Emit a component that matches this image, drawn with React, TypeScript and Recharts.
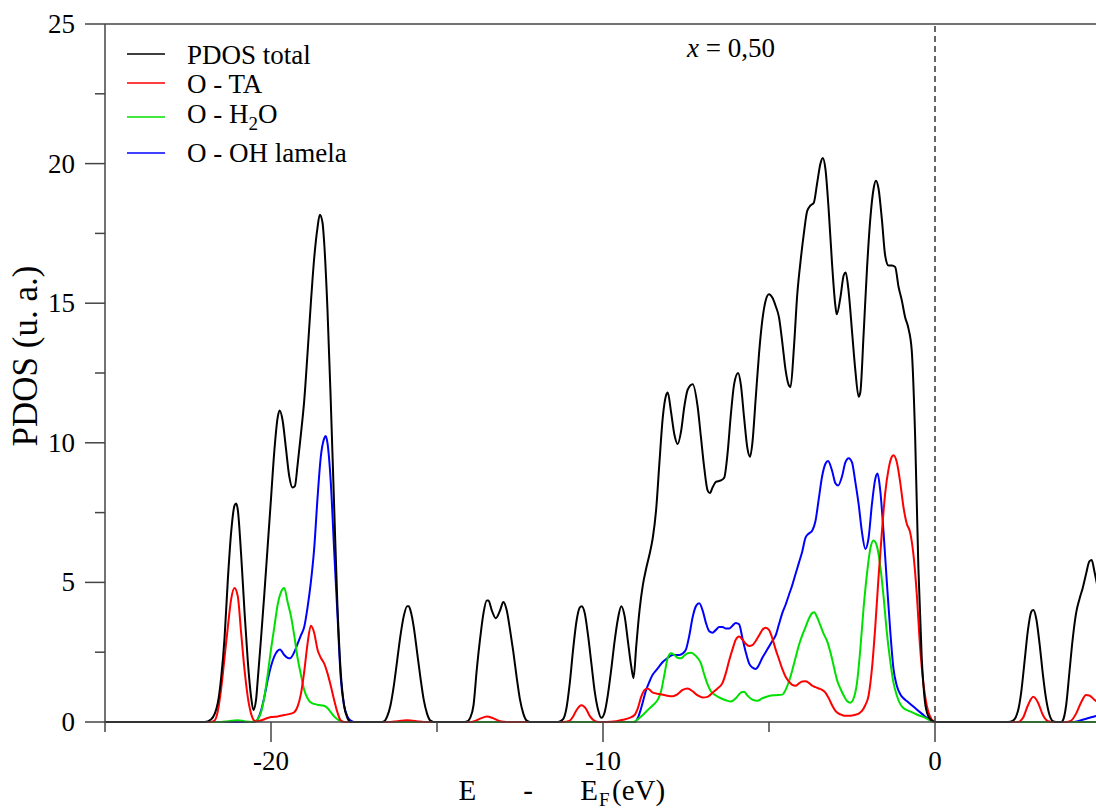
import React from "react";
import { LineChart, Line, XAxis, YAxis, ReferenceLine } from "recharts";

// [energy (eV), PDOS]
const TOTAL: [number, number][] = [
  [-25, 0], [-22, 0], [-21.8, 0.1], [-21.6, 0.7], [-21.5, 1.6], [-21.4, 3.0], [-21.3, 5.1], [-21.2, 6.8], [-21.1, 7.75], [-21.05, 7.83], [-21.0, 7.6], [-20.9, 6.0], [-20.8, 4.0], [-20.7, 2.2], [-20.6, 0.9], [-20.53, 0.43], [-20.45, 0.8], [-20.4, 1.5], [-20.3, 3.0], [-20.2, 4.6], [-20.1, 6.3], [-20.0, 8.0], [-19.9, 9.7], [-19.8, 10.9], [-19.74, 11.16], [-19.65, 10.8], [-19.55, 9.8], [-19.45, 8.8], [-19.35, 8.4], [-19.28, 8.45], [-19.2, 9.2], [-19.1, 10.3], [-19.0, 11.5], [-18.9, 13.2], [-18.8, 15.0], [-18.7, 16.6], [-18.6, 17.7], [-18.53, 18.17], [-18.45, 17.9], [-18.4, 17.2], [-18.3, 14.8], [-18.2, 11.5], [-18.1, 7.8], [-18.0, 4.2], [-17.9, 1.8], [-17.8, 0.6], [-17.7, 0.15], [-17.6, 0],
  [-16.7, 0], [-16.6, 0.02], [-16.5, 0.2], [-16.4, 0.6], [-16.3, 1.3], [-16.2, 2.2], [-16.1, 3.1], [-16.0, 3.8], [-15.9, 4.15], [-15.85, 4.15], [-15.8, 4.0], [-15.7, 3.4], [-15.6, 2.5], [-15.5, 1.6], [-15.4, 0.8], [-15.3, 0.3], [-15.2, 0.05], [-15.1, 0],
  [-14.2, 0], [-14.1, 0.02], [-14.0, 0.15], [-13.9, 0.6], [-13.8, 1.9], [-13.7, 3.0], [-13.6, 3.9], [-13.5, 4.35], [-13.45, 4.35], [-13.35, 4.0], [-13.23, 3.72], [-13.1, 4.0], [-13.0, 4.3], [-12.9, 4.0], [-12.8, 3.3], [-12.7, 2.5], [-12.6, 1.6], [-12.5, 0.8], [-12.4, 0.3], [-12.3, 0.05], [-12.2, 0],
  [-11.4, 0], [-11.3, 0.02], [-11.2, 0.1], [-11.1, 0.5], [-11.0, 1.4], [-10.9, 2.6], [-10.8, 3.6], [-10.7, 4.1], [-10.64, 4.15], [-10.55, 3.9], [-10.45, 3.1], [-10.35, 2.1], [-10.25, 1.1], [-10.15, 0.45], [-10.05, 0.15], [-9.95, 0.35], [-9.85, 1.0], [-9.75, 1.9], [-9.65, 2.9], [-9.55, 3.7], [-9.45, 4.15], [-9.35, 3.8], [-9.25, 2.9], [-9.15, 2.0], [-9.08, 1.57], [-9.0, 2.7], [-8.9, 4.0], [-8.8, 4.9], [-8.7, 5.5], [-8.6, 6.0], [-8.5, 6.6], [-8.4, 7.6], [-8.3, 9.3], [-8.2, 10.9], [-8.1, 11.7], [-8.05, 11.8], [-7.95, 11.1], [-7.85, 10.3], [-7.75, 9.96], [-7.65, 10.4], [-7.55, 11.3], [-7.45, 11.9], [-7.3, 12.1], [-7.15, 11.3], [-7.05, 10.2], [-6.95, 9.1], [-6.85, 8.3], [-6.78, 8.2], [-6.7, 8.4], [-6.6, 8.6], [-6.45, 8.65], [-6.35, 8.75], [-6.25, 9.6], [-6.15, 11.0], [-6.05, 12.1], [-5.93, 12.5], [-5.85, 12.1], [-5.75, 10.9], [-5.65, 9.8], [-5.57, 9.5], [-5.5, 10.0], [-5.4, 11.6], [-5.3, 13.2], [-5.2, 14.4], [-5.1, 15.1], [-5.0, 15.32], [-4.9, 15.2], [-4.8, 14.9], [-4.7, 14.5], [-4.6, 13.6], [-4.5, 12.6], [-4.4, 12.05], [-4.35, 12.0], [-4.25, 13.4], [-4.15, 15.3], [-4.05, 16.5], [-3.95, 17.5], [-3.85, 18.3], [-3.75, 18.5], [-3.65, 18.6], [-3.55, 19.3], [-3.45, 20.0], [-3.38, 20.2], [-3.3, 19.8], [-3.2, 18.3], [-3.1, 16.4], [-3.0, 14.9], [-2.96, 14.6], [-2.85, 15.2], [-2.75, 16.0], [-2.69, 16.1], [-2.6, 15.4], [-2.5, 14.0], [-2.4, 12.6], [-2.3, 11.65], [-2.25, 11.8], [-2.15, 13.9], [-2.05, 16.2], [-1.95, 18.0], [-1.85, 19.1], [-1.78, 19.39], [-1.7, 19.1], [-1.6, 18.0], [-1.5, 16.7], [-1.4, 16.35], [-1.3, 16.35], [-1.2, 16.3], [-1.1, 15.6], [-1.0, 15.1], [-0.9, 14.5], [-0.8, 14.1], [-0.7, 13.3], [-0.6, 10.3], [-0.5, 5.5], [-0.4, 2.3], [-0.3, 0.7], [-0.2, 0.2], [-0.1, 0.05], [0, 0],
  [2.2, 0], [2.35, 0.05], [2.5, 0.4], [2.6, 1.1], [2.7, 2.2], [2.8, 3.3], [2.9, 3.95], [2.96, 4.01], [3.05, 3.7], [3.15, 2.8], [3.25, 1.7], [3.35, 0.8], [3.45, 0.25], [3.55, 0.03], [3.65, 0], [3.8, 0], [3.85, 0.05], [3.95, 0.6], [4.05, 1.8], [4.15, 3.0], [4.25, 3.9], [4.35, 4.4], [4.45, 4.8], [4.55, 5.3], [4.65, 5.75], [4.72, 5.8], [4.8, 5.4], [4.9, 4.8], [5.0, 4.0],
];

const O_TA: [number, number][] = [
  [-25, 0], [-21.8, 0], [-21.7, 0.05], [-21.6, 0.4], [-21.5, 1.2], [-21.4, 2.3], [-21.3, 3.4], [-21.2, 4.4], [-21.1, 4.8], [-21.0, 4.5], [-20.9, 3.2], [-20.8, 1.9], [-20.7, 0.9], [-20.6, 0.3], [-20.5, 0.05], [-20.4, 0.03], [-20.2, 0.1], [-20.0, 0.18], [-19.8, 0.2], [-19.6, 0.25], [-19.4, 0.3], [-19.3, 0.35], [-19.2, 0.55], [-19.1, 1.0], [-19.0, 1.8], [-18.9, 2.8], [-18.8, 3.45], [-18.7, 3.2], [-18.6, 2.6], [-18.5, 2.3], [-18.4, 2.1], [-18.3, 1.75], [-18.2, 1.3], [-18.1, 0.8], [-18.0, 0.35], [-17.9, 0.05], [-17.8, 0],
  [-16.4, 0], [-16.2, 0.03], [-15.9, 0.06], [-15.6, 0.03], [-15.4, 0],
  [-14.0, 0], [-13.9, 0.02], [-13.7, 0.12], [-13.5, 0.2], [-13.3, 0.13], [-13.1, 0.03], [-12.9, 0],
  [-11.2, 0], [-11.0, 0.05], [-10.9, 0.2], [-10.8, 0.42], [-10.65, 0.6], [-10.5, 0.45], [-10.4, 0.22], [-10.3, 0.08], [-10.15, 0],
  [-9.9, 0], [-9.6, 0.03], [-9.4, 0.08], [-9.2, 0.15], [-9.05, 0.25], [-8.95, 0.5], [-8.85, 0.9], [-8.75, 1.15], [-8.65, 1.2], [-8.5, 1.05], [-8.3, 1.0], [-8.1, 0.95], [-7.9, 0.92], [-7.75, 1.0], [-7.6, 1.15], [-7.45, 1.2], [-7.3, 1.1], [-7.15, 0.95], [-7.0, 0.88], [-6.85, 0.9], [-6.7, 1.05], [-6.55, 1.2], [-6.4, 1.4], [-6.3, 1.75], [-6.2, 2.2], [-6.1, 2.6], [-6.0, 2.95], [-5.9, 3.06], [-5.8, 2.95], [-5.7, 2.8], [-5.6, 2.72], [-5.5, 2.75], [-5.4, 2.9], [-5.3, 3.1], [-5.2, 3.3], [-5.1, 3.38], [-5.0, 3.3], [-4.9, 3.0], [-4.8, 2.6], [-4.7, 2.25], [-4.6, 1.9], [-4.5, 1.62], [-4.4, 1.45], [-4.3, 1.33], [-4.2, 1.3], [-4.1, 1.38], [-4.0, 1.45], [-3.9, 1.46], [-3.8, 1.4], [-3.7, 1.3], [-3.6, 1.25], [-3.5, 1.2], [-3.4, 1.15], [-3.3, 1.05], [-3.2, 0.85], [-3.1, 0.6], [-3.0, 0.4], [-2.9, 0.3], [-2.8, 0.25], [-2.7, 0.22], [-2.6, 0.22], [-2.5, 0.23], [-2.4, 0.26], [-2.3, 0.3], [-2.2, 0.4], [-2.1, 0.6], [-2.0, 0.95], [-1.9, 1.9], [-1.8, 3.4], [-1.7, 5.2], [-1.6, 6.8], [-1.5, 8.2], [-1.4, 9.05], [-1.3, 9.5], [-1.25, 9.55], [-1.15, 9.3], [-1.05, 8.6], [-0.95, 7.7], [-0.85, 7.1], [-0.75, 6.8], [-0.65, 6.0], [-0.55, 4.6], [-0.45, 2.7], [-0.35, 1.4], [-0.25, 0.6], [-0.15, 0.2], [-0.05, 0.03], [0, 0],
  [2.5, 0], [2.65, 0.15], [2.8, 0.6], [2.96, 0.9], [3.1, 0.7], [3.25, 0.25], [3.4, 0.03], [3.55, 0], [3.95, 0], [4.1, 0.05], [4.25, 0.3], [4.4, 0.7], [4.55, 0.97], [4.65, 0.95], [4.8, 0.8], [5.0, 0.6],
];

const O_H2O: [number, number][] = [
  [-25, 0], [-21.5, 0], [-21.3, 0.03], [-21.0, 0.06], [-20.8, 0.03], [-20.6, 0], [-20.45, 0.05], [-20.3, 0.35], [-20.2, 0.9], [-20.1, 1.7], [-20.0, 2.6], [-19.9, 3.4], [-19.8, 4.2], [-19.7, 4.65], [-19.6, 4.8], [-19.5, 4.3], [-19.4, 3.8], [-19.3, 3.1], [-19.2, 2.3], [-19.1, 1.7], [-19.0, 1.15], [-18.9, 0.85], [-18.8, 0.7], [-18.6, 0.62], [-18.4, 0.58], [-18.3, 0.5], [-18.2, 0.35], [-18.1, 0.2], [-18.0, 0.1], [-17.9, 0.03], [-17.8, 0],
  [-9.1, 0], [-9.0, 0.05], [-8.9, 0.15], [-8.8, 0.25], [-8.65, 0.43], [-8.5, 0.6], [-8.35, 0.8], [-8.25, 1.1], [-8.15, 1.7], [-8.05, 2.3], [-7.95, 2.46], [-7.85, 2.4], [-7.75, 2.3], [-7.65, 2.28], [-7.55, 2.38], [-7.45, 2.46], [-7.35, 2.48], [-7.25, 2.42], [-7.15, 2.3], [-7.05, 2.1], [-6.95, 1.7], [-6.85, 1.35], [-6.75, 1.1], [-6.6, 0.95], [-6.45, 0.85], [-6.3, 0.78], [-6.15, 0.73], [-6.0, 0.85], [-5.85, 1.05], [-5.75, 1.08], [-5.65, 0.95], [-5.5, 0.8], [-5.35, 0.76], [-5.2, 0.85], [-5.0, 0.93], [-4.8, 0.96], [-4.6, 0.98], [-4.5, 1.15], [-4.4, 1.45], [-4.3, 1.85], [-4.2, 2.3], [-4.1, 2.75], [-4.0, 3.1], [-3.9, 3.4], [-3.8, 3.7], [-3.7, 3.9], [-3.64, 3.93], [-3.55, 3.75], [-3.45, 3.45], [-3.35, 3.15], [-3.25, 2.9], [-3.15, 2.5], [-3.05, 2.0], [-2.95, 1.5], [-2.85, 1.2], [-2.75, 0.95], [-2.65, 0.75], [-2.55, 0.69], [-2.45, 0.85], [-2.35, 1.4], [-2.25, 2.6], [-2.15, 4.1], [-2.05, 5.3], [-1.95, 6.2], [-1.85, 6.5], [-1.75, 6.3], [-1.65, 5.6], [-1.55, 4.5], [-1.45, 3.2], [-1.35, 2.2], [-1.25, 1.4], [-1.15, 0.95], [-1.05, 0.65], [-0.95, 0.5], [-0.75, 0.38], [-0.55, 0.27], [-0.4, 0.2], [-0.25, 0.12], [-0.1, 0.03], [0, 0], [5, 0],
];

const O_OH: [number, number][] = [
  [-25, 0], [-20.5, 0], [-20.4, 0.1], [-20.3, 0.4], [-20.2, 0.9], [-20.1, 1.5], [-20.0, 2.0], [-19.9, 2.35], [-19.8, 2.55], [-19.73, 2.6], [-19.6, 2.4], [-19.5, 2.3], [-19.43, 2.28], [-19.3, 2.5], [-19.2, 2.8], [-19.1, 3.1], [-19.0, 3.4], [-18.9, 4.1], [-18.8, 5.0], [-18.7, 6.2], [-18.6, 8.0], [-18.5, 9.5], [-18.4, 10.15], [-18.35, 10.24], [-18.3, 10.0], [-18.2, 8.6], [-18.1, 6.2], [-18.0, 3.9], [-17.9, 1.6], [-17.8, 0.6], [-17.7, 0.2], [-17.6, 0.05], [-17.5, 0],
  [-9.05, 0], [-8.95, 0.15], [-8.85, 0.5], [-8.7, 1.15], [-8.6, 1.45], [-8.5, 1.7], [-8.4, 1.85], [-8.3, 2.0], [-8.2, 2.15], [-8.1, 2.25], [-8.0, 2.34], [-7.9, 2.4], [-7.8, 2.4], [-7.7, 2.4], [-7.6, 2.45], [-7.5, 2.6], [-7.4, 3.1], [-7.3, 3.75], [-7.2, 4.15], [-7.1, 4.25], [-7.0, 4.0], [-6.9, 3.55], [-6.8, 3.25], [-6.7, 3.2], [-6.6, 3.3], [-6.5, 3.4], [-6.4, 3.4], [-6.3, 3.35], [-6.2, 3.35], [-6.1, 3.45], [-6.0, 3.55], [-5.9, 3.5], [-5.8, 3.0], [-5.7, 2.5], [-5.6, 2.1], [-5.5, 1.95], [-5.4, 1.9], [-5.3, 2.05], [-5.2, 2.3], [-5.1, 2.5], [-5.0, 2.7], [-4.9, 2.9], [-4.8, 3.1], [-4.7, 3.5], [-4.6, 3.9], [-4.5, 4.2], [-4.4, 4.55], [-4.3, 4.9], [-4.2, 5.3], [-4.1, 5.7], [-4.0, 6.1], [-3.9, 6.6], [-3.8, 6.75], [-3.7, 6.85], [-3.6, 7.2], [-3.5, 8.0], [-3.4, 8.8], [-3.3, 9.25], [-3.22, 9.35], [-3.1, 9.0], [-3.0, 8.55], [-2.92, 8.47], [-2.8, 8.8], [-2.7, 9.3], [-2.6, 9.45], [-2.5, 9.3], [-2.4, 8.6], [-2.3, 7.8], [-2.2, 6.8], [-2.1, 6.2], [-2.0, 6.6], [-1.9, 7.8], [-1.8, 8.7], [-1.73, 8.9], [-1.65, 8.3], [-1.55, 6.8], [-1.45, 5.0], [-1.35, 3.3], [-1.25, 1.9], [-1.15, 1.3], [-1.05, 1.0], [-0.95, 0.85], [-0.85, 0.75], [-0.7, 0.6], [-0.55, 0.45], [-0.4, 0.3], [-0.25, 0.15], [-0.1, 0.04], [0, 0],
  [4.2, 0], [4.3, 0.03], [4.5, 0.1], [4.8, 0.2], [5.0, 0.25],
];

const X_TICKS = [-25, -20, -15, -10, -5, 0, 5];
const Y_TICKS = [0, 2.5, 5, 7.5, 10, 12.5, 15, 17.5, 20, 22.5, 25];

const SERIES = [
  { name: "PDOS total", color: "#000000", data: TOTAL },
  { name: "O - TA", color: "#ff0000", data: O_TA },
  { name: "O - H2O", color: "#00e000", data: O_H2O },
  { name: "O - OH lamela", color: "#0000ff", data: O_OH },
];

const FONT = '"Liberation Serif", "DejaVu Serif", serif';
const AXIS = "#444444";
const TXT = { fontFamily: FONT } as React.CSSProperties;

const toRows = (d: [number, number][]) => d.map(([x, y]) => ({ x, y }));

const YTick = (props: any) => {
  const { x, y, payload } = props;
  const v = payload.value as number;
  const major = v % 5 === 0;
  return (
    <g>
      <line x1={x - (major ? 20 : 10)} x2={x} y1={y} y2={y} stroke={AXIS} strokeWidth={1.5} />
      {major && (
        <text x={x - 30} y={y} dy={9} textAnchor="end" style={TXT} fontSize={27} fill="#000">
          {v}
        </text>
      )}
    </g>
  );
};

const XTick = (props: any) => {
  const { x, y, payload } = props;
  const v = payload.value as number;
  const major = v % 10 === 0;
  return (
    <g>
      <line x1={x} x2={x} y1={y} y2={y + (major ? 20 : 10)} stroke={AXIS} strokeWidth={1.5} />
      {major && (
        <text x={x} y={y + 48} textAnchor="middle" style={TXT} fontSize={27} fill="#000">
          {v}
        </text>
      )}
    </g>
  );
};

export default function App() {
  return (
    <div style={{ position: "absolute", left: 0, top: 0, width: 1096, height: 812, overflow: "hidden", background: "#fff" }}>
      <LineChart width={1110} height={812} margin={{ top: 24, right: 9, left: 0, bottom: 0 }}>
        <XAxis
          type="number"
          dataKey="x"
          domain={[-25, 5]}
          ticks={X_TICKS}
          tick={<XTick />}
          tickLine={false}
          tickSize={0}
          tickMargin={0}
          height={90}
          axisLine={{ stroke: AXIS, strokeWidth: 1.5 }}
          allowDuplicatedCategory={false}
        />
        <YAxis
          type="number"
          domain={[0, 25]}
          ticks={Y_TICKS}
          tick={<YTick />}
          tickLine={false}
          tickSize={0}
          tickMargin={0}
          width={105}
          interval={0}
          axisLine={{ stroke: AXIS, strokeWidth: 1.5 }}
        />
        <ReferenceLine y={25} stroke={AXIS} strokeWidth={1.5} />
        <ReferenceLine x={0} stroke="#000" strokeWidth={1.2} strokeDasharray="6 4" />
        {SERIES.slice().reverse().map((s) => (
          <Line
            key={s.name}
            data={toRows(s.data)}
            dataKey="y"
            type="monotone"
            stroke={s.color}
            strokeWidth={2}
            dot={false}
            activeDot={false}
            isAnimationActive={false}
          />
        ))}
      </LineChart>
      <svg width={1096} height={812} style={{ position: "absolute", left: 0, top: 0, pointerEvents: "none" }}>
        <g style={TXT} fill="#000">
          {[54, 83, 117, 153].map((ly, i) => (
            <line key={i} x1={127} x2={165} y1={ly} y2={ly} stroke={SERIES[i].color} strokeWidth={1.5} />
          ))}
          <text x={187} y={64} fontSize={27}>PDOS total</text>
          <text x={187} y={93} fontSize={27}>O - TA</text>
          <text x={187} y={123} fontSize={27}>
            O - H<tspan dy={7} fontSize={19}>2</tspan><tspan dy={-7}>O</tspan>
          </text>
          <text x={187} y={162} fontSize={27}>O - OH lamela</text>
          <text x={687} y={57} fontSize={27}>
            <tspan fontStyle="italic">x</tspan> = 0,50
          </text>
          <text transform="translate(37, 356) rotate(-90)" textAnchor="middle" fontSize={35}>
            PDOS (u. a.)
          </text>
          <text x={598} y={800} textAnchor="end" fontSize={29} style={{ fontFamily: FONT, wordSpacing: "40px" }}>
            E - E
          </text>
          <text x={599} y={806} fontSize={19}>F</text>
          <text x={612} y={800} fontSize={29}>(eV)</text>
        </g>
      </svg>
    </div>
  );
}
